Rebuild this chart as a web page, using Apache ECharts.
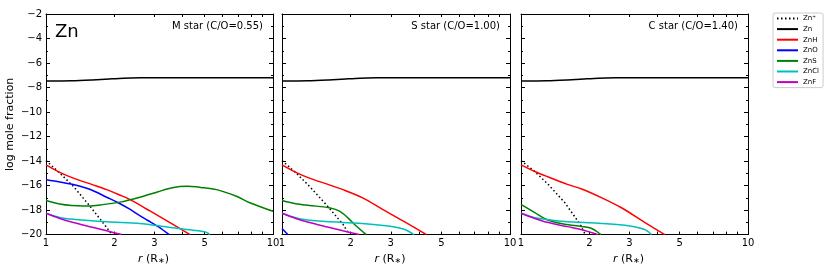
<!DOCTYPE html>
<html><head><meta charset="utf-8">
<script src="https://cdn.jsdelivr.net/npm/echarts@6/dist/echarts.min.js"></script>
<style>html,body{margin:0;padding:0;background:#fff}#c{width:830px;height:270px}</style>
</head><body><div id="c"></div>
<script>
// ---- data: [r (R*), log mole fraction] ----
const seriesNames = ['Zn\u207a','Zn','ZnH','ZnO','ZnS','ZnCl','ZnF'];
const panelNotes = ['M star (C/O=0.55)','S star (C/O=1.00)','C star (C/O=1.40)'];
const xTickLabels = [1,2,3,5,10];
const xTickValues = [1,2,3,4,5,6,7,8,9,10];

const Zn_all = [[1,-7.47],[1.3,-7.45],[1.6,-7.38],[1.9,-7.3],[2.2,-7.24],[2.6,-7.21],[3.2,-7.2],[10,-7.2]];

const M_ZnPlus = [[1,-13.96],[1.15,-14.98],[1.32,-16.06],[1.56,-17.67],[1.85,-19.42],[1.95,-20]];
const M_ZnH = [[1,-14.31],[1.15,-14.92],[1.32,-15.39],[1.6,-15.92],[1.85,-16.33],[2.1,-16.75],[2.34,-17.13],[2.87,-18.07],[3.5,-19.0],[4.31,-20]];
const M_ZnO = [[1,-15.52],[1.15,-15.7],[1.32,-15.92],[1.5,-16.2],[1.65,-16.5],[1.85,-16.95],[2.08,-17.4],[2.35,-17.95],[2.59,-18.45],[2.87,-18.95],[3.12,-19.35],[3.49,-20]];
const M_ZnS = [[1,-17.21],[1.15,-17.5],[1.3,-17.63],[1.46,-17.67],[1.7,-17.6],[2.12,-17.35],[2.59,-16.95],[3.12,-16.5],[3.6,-16.18],[4.17,-16.06],[4.8,-16.15],[5.65,-16.33],[6.9,-16.87],[7.9,-17.4],[10,-18.1]];
const M_ZnCl = [[1,-18.26],[1.15,-18.6],[1.32,-18.75],[1.85,-18.96],[2.59,-19.1],[3.12,-19.28],[4.03,-19.55],[4.93,-19.74],[5.1,-19.82],[5.27,-20]];
const M_ZnF = [[1,-18.26],[1.15,-18.68],[1.32,-19.02],[1.6,-19.4],[1.85,-19.69],[2.15,-20]];

const S_ZnPlus = [[1,-13.96],[1.15,-14.95],[1.32,-16.06],[1.56,-17.54],[1.85,-19.15],[1.97,-20]];
const S_ZnH = [[1,-14.31],[1.15,-14.92],[1.32,-15.39],[1.6,-15.92],[1.85,-16.33],[2.26,-17.0],[2.76,-17.94],[3.5,-19.02],[4.3,-20]];
const S_ZnO = [[1,-19.5],[1.06,-20]];
const S_ZnS = [[1,-17.21],[1.15,-17.48],[1.32,-17.62],[1.61,-17.81],[1.78,-18.07],[1.94,-18.61],[2.11,-19.28],[2.34,-20]];
const S_ZnCl = [[1,-18.26],[1.1,-18.52],[1.23,-18.75],[1.56,-18.94],[2.18,-19.07],[2.86,-19.28],[3.2,-19.42],[3.5,-19.62],[3.79,-20]];
const S_ZnF = [[1,-18.26],[1.15,-18.68],[1.32,-19.02],[1.6,-19.4],[1.85,-19.69],[2.18,-20]];

const C_ZnPlus = [[1,-13.96],[1.15,-14.85],[1.32,-15.92],[1.56,-17.4],[1.82,-19.15],[1.92,-20]];
const C_ZnH = [[1,-14.31],[1.15,-14.85],[1.32,-15.3],[1.6,-15.9],[1.85,-16.28],[2.27,-17.0],[2.77,-17.81],[3.52,-19.02],[4.3,-20]];
const C_ZnO = [];
const C_ZnS = [[1,-17.54],[1.15,-18.21],[1.32,-18.83],[1.56,-19.15],[1.85,-19.34],[2.05,-19.5],[2.25,-20]];
const C_ZnCl = [[1,-18.26],[1.15,-18.62],[1.28,-18.75],[1.56,-18.94],[2.19,-19.07],[2.87,-19.23],[3.2,-19.38],[3.52,-19.6],[3.76,-20]];
const C_ZnF = [[1,-18.26],[1.15,-18.68],[1.32,-19.02],[1.6,-19.35],[1.85,-19.6],[2.19,-20]];

const panelData = [
  [M_ZnPlus, Zn_all, M_ZnH, M_ZnO, M_ZnS, M_ZnCl, M_ZnF],
  [S_ZnPlus, Zn_all, S_ZnH, S_ZnO, S_ZnS, S_ZnCl, S_ZnF],
  [C_ZnPlus, Zn_all, C_ZnH, C_ZnO, C_ZnS, C_ZnCl, C_ZnF]
];
const colors = ['#000000','#000000','#ff0000','#0000ff','#008000','#00bfbf','#bf00bf'];

// ---- layout ----
const FONT = 'DejaVu Sans';
const grids = [
  {left:46, top:14, width:227, height:223},
  {left:282, top:14, width:228, height:223},
  {left:521, top:14, width:227, height:223}
];
const axisLine = {show:true, onZero:false, lineStyle:{color:'#000', width:1}};
const minus = v => (v < 0 ? '\u2212' : '') + Math.abs(v);

const xAxes = [], yAxes = [], series = [], graphics = [];
grids.forEach((g, i) => {
  xAxes.push({
    type:'log', logBase:10, min:1, max:10, gridIndex:i, position:'bottom',
    axisLine, splitLine:{show:false},
    axisTick:{inside:true, length:3, customValues:xTickValues, lineStyle:{color:'#000'}},
    axisLabel:{customValues:xTickLabels, color:'#000', fontFamily:FONT, fontSize:10, margin:4,
      formatter: v => String(Math.round(v))},
    name:'{i|r} ({n|R}{s|\u2217})', nameLocation:'middle', nameGap:14,
    nameTextStyle:{padding:[0,12,0,0], rich:{
      i:{fontFamily:FONT, fontSize:11, fontStyle:'italic', color:'#000'},
      n:{fontFamily:FONT, fontSize:11, color:'#000'},
      s:{fontFamily:FONT, fontSize:8, color:'#000', verticalAlign:'bottom', padding:[4,0,0,0]}
    }, fontFamily:FONT, fontSize:11, color:'#000'}
  });
  xAxes.push({
    type:'log', logBase:10, min:1, max:10, gridIndex:i, position:'top',
    axisLine, splitLine:{show:false},
    axisTick:{inside:true, length:3, customValues:xTickValues, lineStyle:{color:'#000'}},
    axisLabel:{show:false}
  });
  const yBase = {
    type:'value', min:-20, max:-2, interval:2, gridIndex:i,
    axisLine, splitLine:{show:false},
    axisTick:{inside:true, length:4, lineStyle:{color:'#000'}},
    minorTick:{show:true, splitNumber:2, length:2, lineStyle:{color:'#000'}}
  };
  yAxes.push(Object.assign({}, yBase, {
    position:'left',
    axisLabel:{show:i===0, color:'#000', fontFamily:FONT, fontSize:10, margin:4, formatter:minus},
    name: i===0 ? 'log mole fraction' : '', nameLocation:'middle', nameGap:30,
    nameTextStyle:{fontFamily:FONT, fontSize:11, color:'#000'}
  }));
  yAxes.push(Object.assign({}, yBase, {position:'right', axisLabel:{show:false}}));

  panelData[i].forEach((d, k) => {
    series.push({
      type:'line', name:seriesNames[k], xAxisIndex:2*i, yAxisIndex:2*i, data:d,
      showSymbol:false, symbol:'none', smooth: k===0 ? false : 0.3, clip:true,
      color:colors[k], animation:false,
      lineStyle:{color:colors[k], width:1.5, type: k===0 ? [1.5,2.5] : 'solid', cap:'butt'},
      emphasis:{disabled:true}
    });
  });

  graphics.push({type:'text', x:g.left + g.width - 10, y:26,
    style:{text:panelNotes[i], fill:'#000', fontFamily:FONT, fontSize:10, align:'right', verticalAlign:'middle'}});
});
graphics.push({type:'text', x:55, y:32,
  style:{text:'Zn', fill:'#000', fontFamily:FONT, fontSize:18, align:'left', verticalAlign:'middle'}});

const chart = echarts.init(document.getElementById('c'), null, {renderer:'canvas'});
chart.setOption({
  animation:false,
  backgroundColor:'#fff',
  grid:grids,
  xAxis:xAxes,
  yAxis:yAxes,
  series:series,
  graphic:graphics,
  legend:{
    orient:'vertical', left:773, top:13, data:seriesNames,
    itemWidth:21, itemHeight:8, itemGap:3.6, padding:[2,4,2,3],
    itemStyle:{opacity:0},
    borderColor:'#cccccc', borderWidth:1, borderRadius:2, backgroundColor:'#fff',
    textStyle:{fontFamily:FONT, fontSize:7, color:'#000'},
    selectedMode:false
  }
});
</script></body></html>
